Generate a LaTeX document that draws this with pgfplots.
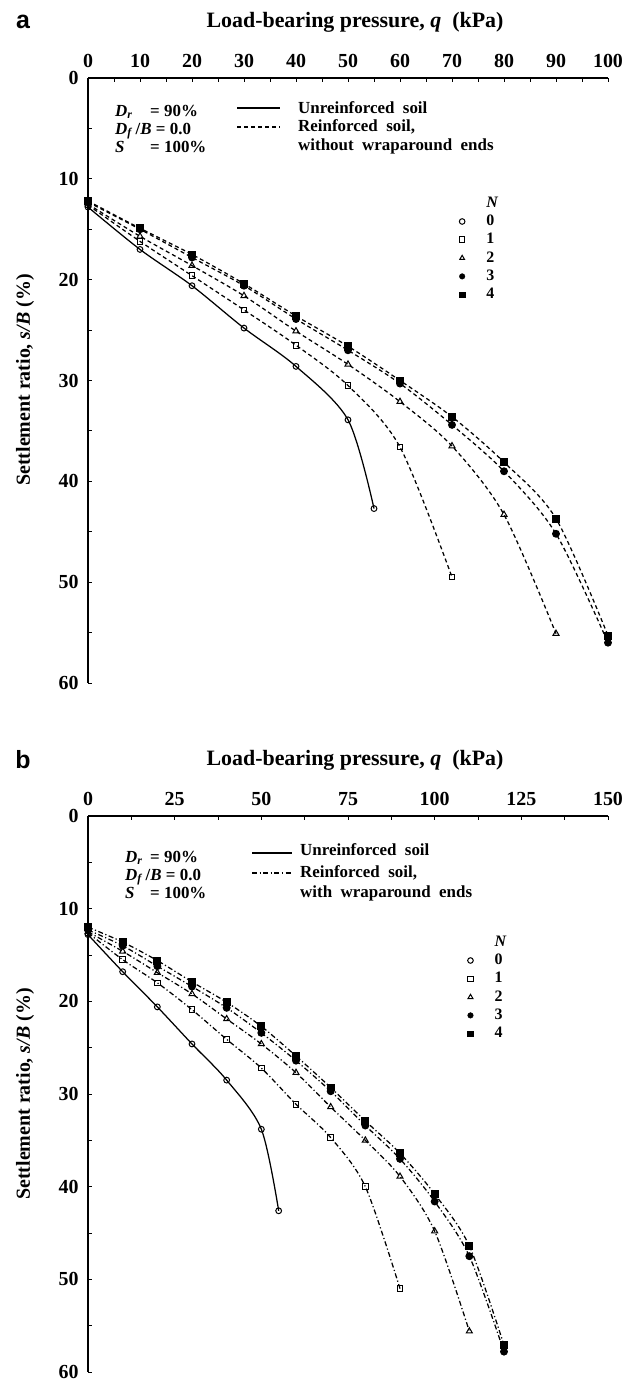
\documentclass[border=0pt]{standalone}
\usepackage{fontspec}
\setmainfont{Liberation Serif}
\setsansfont{Liberation Sans}
\usepackage{pgfplots}
\pgfplotsset{compat=1.18}

\newcommand{\fs}[1]{\fontsize{#1}{#1}\selectfont\bfseries}

\pgfplotsset{
  sr/.style={
    scale only axis, width=520bp,
    xmin=0, ymin=0, ymax=60, y dir=reverse,
    axis x line*=top, axis y line*=left,
    tick align=inside,
    ytick distance=10, minor y tick num=1, minor x tick num=1,
    major tick length=4bp, minor tick length=4bp,
    tick style={black, line width=0.9bp},
    axis line style={black, line width=1.1bp},
    /pgf/number format/assume math mode=true,
    ticklabel style={font=\fs{20}},
    xticklabel style={yshift=7bp},
    yticklabel style={xshift=-6bp},
    clip=false,
    legend cell align=left,
    legend style={draw=none, fill=none, font=\fs{16}, inner sep=0pt,
      row sep=4.3bp, nodes={inner sep=0pt, text height=11bp, text depth=3bp}},
  },
  base/.style={black, line width=1.25bp, smooth, tension=0.5, forget plot},
  unre/.style={base, solid},
  rfa/.style={base, dash pattern=on 4bp off 3bp},
  rfb/.style={base, dash pattern=on 5bp off 2.5bp on 1.2bp off 2.5bp},
  m0/.style={mark=o, mark size=2.9bp, mark options={solid, line width=1bp}},
  m1/.style={mark=square, mark size=2.8bp, mark options={solid, line width=1bp}},
  m2/.style={mark=triangle, mark size=3.5bp, mark options={solid, line width=1bp}},
  m3/.style={mark=*, mark size=3.3bp, mark options={solid}},
  m4/.style={mark=square*, mark size=3.3bp, mark options={solid}},
  nleg/.style={only marks, legend image code/.code={\path (0bp,0bp) (27bp,0bp); \draw[##1, mark size=2.8bp] plot coordinates {(3bp,0bp)};}},
}

\begin{document}
\begin{tikzpicture}
\useasboundingbox (0,0) rectangle (642bp,-1382bp);

% ---------------- panel a
\begin{axis}[sr, at={(88bp,-78bp)}, anchor=north west, height=605bp,
  xmax=100, xtick distance=10,
  legend style={at={(0.713,0.805)}, anchor=north west}]
\addplot[unre, m0] coordinates {(0,12.8) (10,17.0) (20,20.6) (30,24.8) (40,28.6) (50,33.9) (55,42.7)};
\addplot[rfa, m1] coordinates {(0,12.6) (10,16.2) (20,19.6) (30,23.0) (40,26.5) (50,30.5) (60,36.6) (70,49.5)};
\addplot[rfa, m2] coordinates {(0,12.5) (10,15.7) (20,18.6) (30,21.6) (40,25.1) (50,28.4) (60,32.1) (70,36.5) (80,43.3) (90,55.1)};
\addplot[rfa, m3] coordinates {(0,12.3) (10,15.0) (20,17.8) (30,20.6) (40,23.9) (50,27.0) (60,30.3) (70,34.4) (80,39.0) (90,45.2) (100,56.0)};
\addplot[rfa, m4] coordinates {(0,12.2) (10,14.9) (20,17.5) (30,20.4) (40,23.6) (50,26.6) (60,30.0) (70,33.6) (80,38.1) (90,43.7) (100,55.3)};
\addlegendimage{empty legend}\addlegendentry{\textit{N}}
\addlegendimage{nleg, m0}\addlegendentry{0}
\addlegendimage{nleg, m1}\addlegendentry{1}
\addlegendimage{nleg, m2}\addlegendentry{2}
\addlegendimage{nleg, m3}\addlegendentry{3}
\addlegendimage{nleg, m4}\addlegendentry{4}
\end{axis}

% ---------------- panel b
\begin{axis}[sr, at={(88bp,-816bp)}, anchor=north west, height=556bp,
  xmax=150, xtick distance=25,
  legend style={at={(0.729,0.786)}, anchor=north west}]
\addplot[unre, m0] coordinates {(0,12.8) (10,16.8) (20,20.6) (30,24.6) (40,28.5) (50,33.8) (55,42.6)};
\addplot[rfb, m1] coordinates {(0,12.6) (10,15.5) (20,18.0) (30,20.9) (40,24.1) (50,27.2) (60,31.1) (70,34.7) (80,40.0) (90,51.0)};
\addplot[rfb, m2] coordinates {(0,12.5) (10,14.6) (20,16.9) (30,19.2) (40,21.9) (50,24.6) (60,27.7) (70,31.4) (80,35.0) (90,38.9) (100,44.8) (110,55.6)};
\addplot[rfb, m3] coordinates {(0,12.3) (10,14.0) (20,16.2) (30,18.4) (40,20.7) (50,23.4) (60,26.4) (70,29.7) (80,33.4) (90,37.0) (100,41.6) (110,47.5) (120,57.8)};
\addplot[rfb, m4] coordinates {(0,12.0) (10,13.6) (20,15.6) (30,17.9) (40,20.1) (50,22.7) (60,25.9) (70,29.3) (80,32.9) (90,36.4) (100,40.8) (110,46.4) (120,57.1)};
\addlegendimage{empty legend}\addlegendentry{\textit{N}}
\addlegendimage{nleg, m0}\addlegendentry{0}
\addlegendimage{nleg, m1}\addlegendentry{1}
\addlegendimage{nleg, m2}\addlegendentry{2}
\addlegendimage{nleg, m3}\addlegendentry{3}
\addlegendimage{nleg, m4}\addlegendentry{4}
\end{axis}

% titles, panel letters, y labels
\node[font=\sffamily\bfseries\fontsize{25}{25}\selectfont] at (23bp,-22bp) {a};
\node[font=\sffamily\bfseries\fontsize{25}{25}\selectfont] at (23bp,-760bp) {b};
\node[font=\fs{22}] at (355bp,-22bp) {Load-bearing pressure, \textit{q}\ \ (kPa)};
\node[font=\fs{22}] at (355bp,-760bp) {Load-bearing pressure, \textit{q}\ \ (kPa)};
\node[rotate=90, font=\fs{20}] at (25bp,-380bp) {Settlement ratio, \textit{s/B} (\%)};
\node[rotate=90, font=\fs{20}] at (25bp,-1094bp) {Settlement ratio, \textit{s/B} (\%)};

% annotations
\begin{scope}[every node/.style={anchor=base west, inner sep=0pt, font=\fs{17}}]
\node at (115bp,-116bp) {\textit{D}\textsubscript{\textit{r}}};
\node at (150bp,-116bp) {= 90\%};
\node at (115bp,-134bp) {\textit{D}\textsubscript{\textit{f}}\,/\textit{B} = 0.0};
\node at (115bp,-152bp) {\textit{S}};
\node at (150bp,-152bp) {= 100\%};
\node at (298bp,-113bp) {Unreinforced\ \ soil};
\node at (298bp,-131bp) {Reinforced\ \ soil,};
\node at (298bp,-150bp) {without\ \ wraparound\ \ ends};

\node at (125bp,-862bp) {\textit{D}\textsubscript{\textit{r}}};
\node at (150bp,-862bp) {= 90\%};
\node at (125bp,-880bp) {\textit{D}\textsubscript{\textit{f}}\,/\textit{B} = 0.0};
\node at (125bp,-898bp) {\textit{S}};
\node at (150bp,-898bp) {= 100\%};
\node at (300bp,-855bp) {Unreinforced\ \ soil};
\node at (300bp,-877bp) {Reinforced\ \ soil,};
\node at (300bp,-897bp) {with\ \ wraparound\ \ ends};
\end{scope}
\draw[line width=1.2bp] (237bp,-108bp) -- (280bp,-108bp);
\draw[line width=1.2bp, dash pattern=on 4bp off 3bp] (237bp,-127bp) -- (280bp,-127bp);
\draw[line width=1.2bp] (252bp,-853bp) -- (292bp,-853bp);
\draw[line width=1.2bp, dash pattern=on 5bp off 2.5bp on 1.2bp off 2.5bp] (252bp,-873bp) -- (292bp,-873bp);
\end{tikzpicture}
\end{document}
